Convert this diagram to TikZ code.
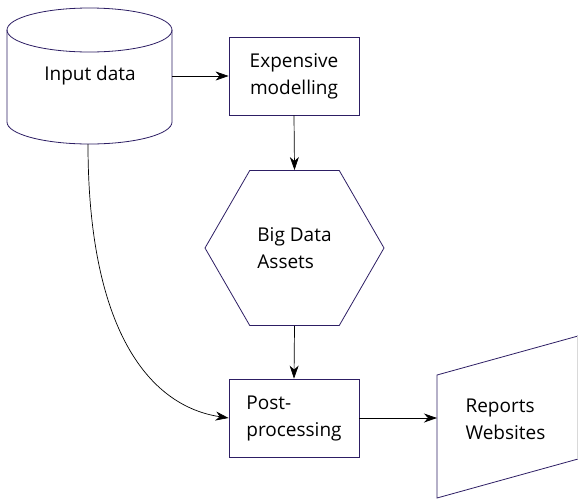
\documentclass[tikz,border=0pt]{standalone}
\usepackage{fontspec}
\setmainfont{Open Sans}
\usetikzlibrary{shapes.geometric,arrows.meta}
\definecolor{edge}{RGB}{45,30,100}

\begin{document}
\begin{tikzpicture}[x=1pt,y=-1pt,
  shape line/.style={draw=edge,line width=0.8pt},
  box/.style={shape line,rectangle,minimum width=130pt,minimum height=78pt},
  label text/.style={font=\fontsize{19}{27}\selectfont},
  flow/.style={-{Stealth[length=13pt,width=9pt,inset=4pt]},line width=0.7pt}]
  \useasboundingbox (0,0) rectangle (578,499);
  % data store drawn by hand
  \draw[shape line] (7,30) -- (7,122) arc[start angle=180,end angle=0,x radius=82.5,y radius=22] -- (172,30);
  \draw[shape line] (89.5,30) ellipse[x radius=82.5,y radius=22];
  \coordinate (dataright) at (172,76);
  \coordinate (databottom) at (88,144);
  \node[label text] (data) at (90,76) {Input data};
  \node[box,label text,align=center] (model) at (294,76) {Expensive\\modelling};
  \node[shape line,regular polygon,regular polygon sides=6,minimum size=179pt,inner sep=0pt,label text,align=left] (assets) at (294.5,248) {Big Data\\Assets};
  \node[box,label text,align=left] (post) at (294,418) {Post-\\processing};
  % output sheet, skewed and cut at the page edge
  \draw[shape line] (578,336) -- (437,375) -- (437,498) -- (578,459);
  \draw[black!15,line width=0.6pt] (577.5,336) -- (577.5,459);
  \coordinate (out) at (437,418);
  \node[label text,align=left,anchor=west] (report) at (462,419) {Reports\\Websites};
  \draw[flow] (dataright) -- (model.west);
  \draw[flow] (model.south) -- (assets.north);
  \draw[flow] (assets.south) -- (post.north);
  \draw[flow] (post.east) -- (out);
  \draw[flow] (databottom) .. controls +(0,185) and +(-80,-12) .. (post.west);
\end{tikzpicture}
\end{document}
